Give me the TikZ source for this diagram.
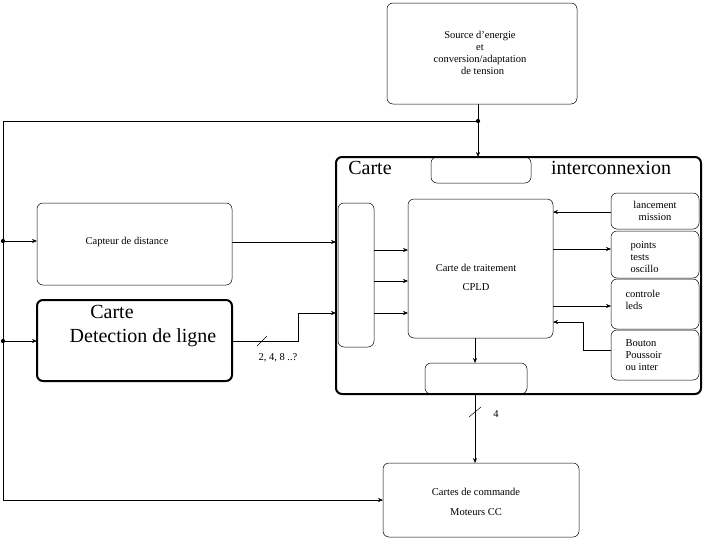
\documentclass[tikz,border=0pt]{standalone}
\usepackage{fontspec}
\setmainfont{Liberation Serif}
\usetikzlibrary{arrows.meta}
\begin{document}
\begin{tikzpicture}[x=1pt,y=-1pt,
  bx/.style={draw,rounded corners=6pt,line width=0.5pt},
  thk/.style={draw,rounded corners=6pt,line width=2pt},
  ar/.style={-{Stealth[length=5pt,width=4pt]},line width=0.5pt},
  ln/.style={line width=0.5pt},
  dotc/.style={circle,fill,inner sep=1.5pt},
  sm/.style={font=\fontsize{10.5}{12}\selectfont,align=center},
  bg/.style={font=\fontsize{20}{22}\selectfont}]
\useasboundingbox (0,0) rectangle (705,541);
% boxes
\draw[bx] (387,3) rectangle (577,104);
\node[sm] (src) at (480,53) {Source d'energie\\et\\conversion/adaptation\\\ \ de tension};
\draw[thk] (336,157) rectangle (701,394);
\node[bg] (c1) at (370,168) {Carte};
\node[bg] (c2) at (611,168) {interconnexion};
\draw[bx] (431,157) rectangle (531,183);
\draw[bx] (338,203) rectangle (374,347);
\draw[bx] (408,199) rectangle (553,338);
\node[sm] (cp1) at (476,268) {Carte de traitement};
\node[sm] (cp2) at (476,287) {CPLD};
\draw[bx] (425,363) rectangle (527,394);
\draw[bx] (611,193) rectangle (699,229);
\node[sm] (l1) at (655,211) {lancement\\mission};
\draw[bx] (611,231) rectangle (699,278);
\node[sm,align=left,anchor=west] (l2) at (627,257) {points\\tests\\oscillo};
\draw[bx] (611,279) rectangle (699,329);
\node[sm,align=left,anchor=west] (l3) at (622,300) {controle\\leds};
\draw[bx] (611,330) rectangle (699,380);
\node[sm,align=left,anchor=west] (l4) at (622,355) {Bouton\\Poussoir\\ou inter};
\draw[bx] (383,463) rectangle (579,537);
\node[sm] (m1) at (476,492) {Cartes de commande};
\node[sm] (m2) at (476,512) {Moteurs CC};
\draw[bx] (37,203) rectangle (232,285);
\node[sm] (cap) at (127,242) {Capteur de distance};
\draw[thk] (37,300) rectangle (232,381);
\node[bg] (d1) at (112,312) {Carte};
\node[bg] (d2) at (143,338) {Detection de ligne};
\node[sm] (lab) at (278,358) {2, 4, 8 ..?};
\node[sm] (lab4) at (496,414) {4};
% connectors
\node[dotc] (p1) at (478,121) {};
\node[dotc] (p2) at (3,241) {};
\node[dotc] (p3) at (3,341) {};
\draw[ar] (478,104) -- (478,157);
\draw[ln] (478,121) -- (3,121) -- (3,500);
\draw[ar] (3,500) -- (383,500);
\draw[ar] (3,241) -- (37,241);
\draw[ar] (3,341) -- (37,341);
\draw[ar] (232,242) -- (336,242);
\draw[ar] (232,341) -- (298,341) -- (298,313) -- (336,313);
\draw[ln] (257,346) -- (267,336);
\draw[ar] (374,250) -- (408,250);
\draw[ar] (374,281) -- (408,281);
\draw[ar] (374,313) -- (408,313);
\draw[ar] (611,212) -- (553,212);
\draw[ar] (553,249) -- (611,249);
\draw[ar] (553,306) -- (611,306);
\draw[ar] (611,350) -- (583,350) -- (583,322) -- (553,322);
\draw[ar] (475,338) -- (475,363);
\draw[ar] (475,394) -- (475,463);
\draw[ln] (469,417) -- (481,407);
\end{tikzpicture}
\end{document}
